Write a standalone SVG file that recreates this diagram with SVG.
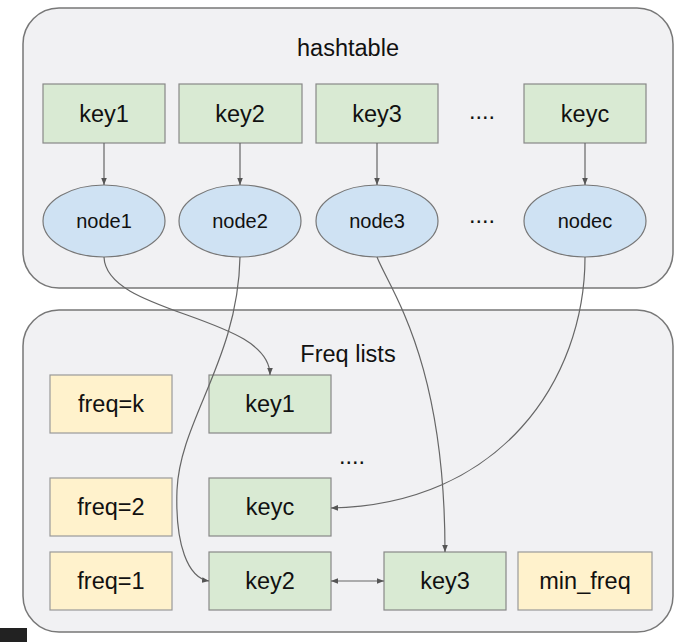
<svg xmlns="http://www.w3.org/2000/svg" width="696" height="642" viewBox="0 0 696 642">
<style>
  .panel { fill: #f1f1f3; stroke: #777; stroke-width: 1.5; }
  .key { fill: #d9ead3; stroke: #888; stroke-width: 1.2; }
  .freq { fill: #fff2cc; stroke: #999; stroke-width: 1.2; }
  .node { fill: #cfe2f3; stroke: #777; stroke-width: 1.2; }
  text { font-family: "Liberation Sans", Arial, sans-serif; fill: #111; text-anchor: middle; }
  .big { font-size: 23.5px; }
  .small { font-size: 20px; }
  .conn path, .conn line { fill: none; stroke: #666; stroke-width: 1.2; }
</style>
<defs>
  <marker id="ah" viewBox="0 0 10 10" refX="10" refY="5" markerWidth="7" markerHeight="7" orient="auto-start-reverse" markerUnits="userSpaceOnUse">
    <path d="M0,1 L10,5 L0,9 z" fill="#555"/>
  </marker>
</defs>
<rect width="696" height="642" fill="#ffffff"/>

<g id="hashtable">
  <rect class="panel" x="23" y="8" width="650" height="280" rx="36"/>
  <text class="big" x="348" y="56">hashtable</text>
</g>
<g id="freqlists">
  <rect class="panel" x="23" y="310" width="650" height="322" rx="36"/>
  <text class="big" x="348" y="362">Freq lists</text>
</g>

<g id="hkey1"><rect class="key" x="43" y="84" width="122" height="59"/><text class="big" x="104" y="122">key1</text></g>
<g id="hkey2"><rect class="key" x="179" y="84" width="123" height="59"/><text class="big" x="240" y="122">key2</text></g>
<g id="hkey3"><rect class="key" x="316" y="84" width="122" height="59"/><text class="big" x="377" y="122">key3</text></g>
<g id="hdots1"><text class="big" x="482" y="119">....</text></g>
<g id="hkeyc"><rect class="key" x="524" y="84" width="122" height="59"/><text class="big" x="585" y="122">keyc</text></g>

<g id="node1"><ellipse class="node" cx="104" cy="221" rx="61" ry="36"/><text class="small" x="104" y="228">node1</text></g>
<g id="node2"><ellipse class="node" cx="240" cy="221" rx="61" ry="36"/><text class="small" x="240" y="228">node2</text></g>
<g id="node3"><ellipse class="node" cx="377" cy="221" rx="61" ry="36"/><text class="small" x="377" y="228">node3</text></g>
<g id="hdots2"><text class="big" x="482" y="223">....</text></g>
<g id="nodec"><ellipse class="node" cx="585" cy="221" rx="61" ry="36"/><text class="small" x="585" y="228">nodec</text></g>

<g id="freqk"><rect class="freq" x="50" y="375" width="122" height="58"/><text class="big" x="111" y="412">freq=k</text></g>
<g id="freq2"><rect class="freq" x="50" y="478" width="122" height="58"/><text class="big" x="111" y="515">freq=2</text></g>
<g id="freq1"><rect class="freq" x="50" y="552" width="122" height="58"/><text class="big" x="111" y="589">freq=1</text></g>

<g id="lkey1"><rect class="key" x="209" y="375" width="122" height="58"/><text class="big" x="270" y="412">key1</text></g>
<g id="ldots"><text class="big" x="352" y="464">....</text></g>
<g id="lkeyc"><rect class="key" x="209" y="478" width="122" height="58"/><text class="big" x="270" y="515">keyc</text></g>
<g id="lkey2"><rect class="key" x="209" y="552" width="122" height="58"/><text class="big" x="270" y="589">key2</text></g>
<g id="lkey3"><rect class="key" x="384" y="552" width="122" height="58"/><text class="big" x="445" y="589">key3</text></g>
<g id="minfreq"><rect class="freq" x="518" y="552" width="134" height="58"/><text class="big" x="585" y="589">min_freq</text></g>

<g id="connectors" class="conn">
  <line x1="104" y1="143" x2="104" y2="185" marker-end="url(#ah)"/>
  <line x1="240" y1="143" x2="240" y2="185" marker-end="url(#ah)"/>
  <line x1="377" y1="143" x2="377" y2="185" marker-end="url(#ah)"/>
  <line x1="585" y1="143" x2="585" y2="185" marker-end="url(#ah)"/>
  <path d="M104,257 C106,315 270,315 270,375" marker-end="url(#ah)"/>
  <path d="M240,257 C238,360 180,420 177,490 C175,545 188,578 209,581" marker-end="url(#ah)"/>
  <path d="M377,257 C390,290 445,360 445,552" marker-end="url(#ah)"/>
  <path d="M585,257 C585,380 500,505 331,508" marker-end="url(#ah)"/>
  <line x1="331" y1="581" x2="384" y2="581" marker-start="url(#ah)" marker-end="url(#ah)"/>
</g>

<rect x="0" y="628" width="27" height="14" fill="#222"/>
</svg>
